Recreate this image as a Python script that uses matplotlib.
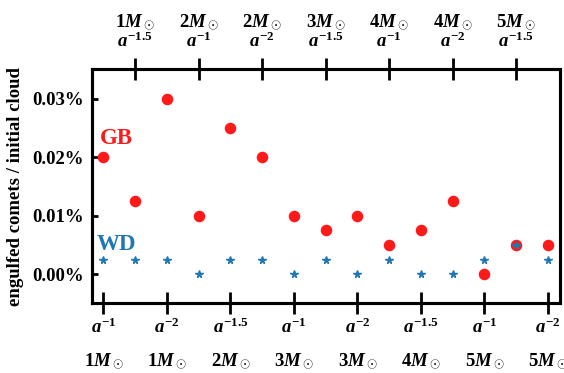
import matplotlib
matplotlib.use("Agg")
import matplotlib.pyplot as plt
from matplotlib.ticker import FuncFormatter

# values in percent of initial cloud
gb = [0.02, 0.0125, 0.03, 0.01, 0.025, 0.02, 0.01, 0.0075,
      0.01, 0.005, 0.0075, 0.0125, 0.0, 0.005, 0.005]
wd = [0.0025, 0.0025, 0.0025, 0.0, 0.0025, 0.0025, 0.0, 0.0025,
      0.0, 0.0025, 0.0, 0.0, 0.0025, 0.005, 0.0025]
masses = ["1", "1", "1", "2", "2", "2", "3", "3", "3", "4", "4", "4", "5", "5", "5"]
exponents = ["-1", "-1.5", "-2"] * 5
yticks = [0.0, 0.01, 0.02, 0.03]

plt.rcParams["font.family"] = ["Liberation Serif", "DejaVu Serif"]
plt.rcParams["font.weight"] = "bold"
plt.rcParams["mathtext.fontset"] = "custom"
plt.rcParams["mathtext.rm"] = "Liberation Serif:bold"
plt.rcParams["mathtext.it"] = "Liberation Serif:italic:bold"
plt.rcParams["mathtext.bf"] = "Liberation Serif:bold"

x = list(range(len(gb)))

fig = plt.figure(figsize=(5.64, 3.73), dpi=100)
ax = fig.add_axes([0.163, 0.1877, 0.830, 0.627])

ax.plot(x, gb, "o", color="#ff1a1a", markersize=7.3, linestyle="none")
ax.plot(x, wd, "*", color="#1f77b4", markersize=5.5, linestyle="none")

ax.text(-0.12, 0.0232, "GB", color="#ff1a1a", fontsize=16.5, fontweight="bold",
        ha="left", va="center")
ax.text(-0.22, 0.0051, "WD", color="#1f77b4", fontsize=16.5, fontweight="bold",
        ha="left", va="center")

ax.set_xlim(-0.36, 14.38)
ax.set_ylim(-0.0049, 0.0351)

ax.set_yticks(yticks)
ax.yaxis.set_major_formatter(FuncFormatter(lambda v, p: "%.2f%%" % v))
ax.set_ylabel("engulfed comets / initial cloud", fontsize=13.5, fontweight="bold", labelpad=6)
ax.tick_params(axis="y", direction="in", length=4, width=2, labelsize=13.5, pad=6)

bottom = [i for i in x if i % 2 == 0]
top = [i for i in x if i % 2 == 1]

ax.set_xticks(bottom)
ax.set_xticklabels(["$a^{%s}$\n\n%s$M_\\odot$" % (exponents[i], masses[i]) for i in bottom],
                   linespacing=0.9)
ax.tick_params(axis="x", direction="inout", length=16.5, width=2, labelsize=13.5, pad=2)

ax2 = ax.twiny()
ax2.set_xlim(ax.get_xlim())
ax2.set_xticks(top)
ax2.set_xticklabels(["%s$M_\\odot$\n$a^{%s}$" % (masses[i], exponents[i]) for i in top],
                    linespacing=1.0)
ax2.tick_params(axis="x", direction="inout", length=16.5, width=2, labelsize=13.5, pad=4.5)

for a in (ax, ax2):
    for s in a.spines.values():
        s.set_linewidth(2.2)

fig.savefig("out.png", dpi=100)
